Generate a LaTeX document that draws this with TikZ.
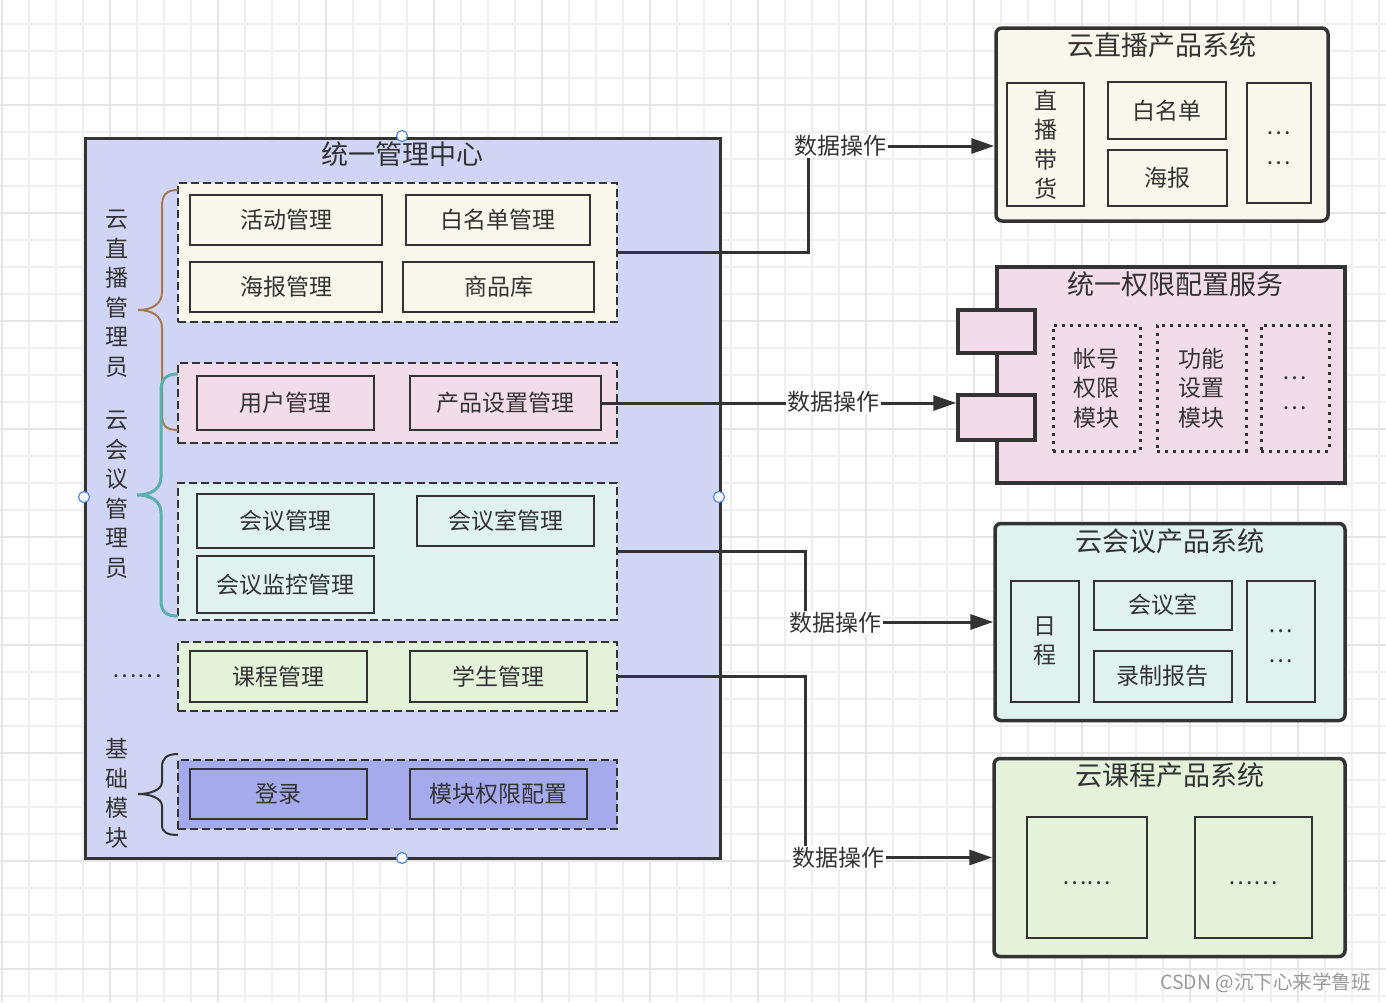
\documentclass[tikz,border=0pt]{standalone}
\usepackage{fontspec}
\setmainfont{Noto Sans CJK SC}
\usetikzlibrary{arrows.meta}
\definecolor{ink}{HTML}{333333}
\definecolor{mainfill}{HTML}{D0D4F5}
\definecolor{cream}{HTML}{F9F7EB}
\definecolor{pinkf}{HTML}{F3DCEA}
\definecolor{tealf}{HTML}{DFF2F0}
\definecolor{greenf}{HTML}{E4F2DA}
\definecolor{bluef}{HTML}{A4AAEC}
\definecolor{braceb}{HTML}{A8784A}
\definecolor{bracet}{HTML}{5BB0AC}
\definecolor{gridl}{HTML}{EFEFEF}
\definecolor{gridd}{HTML}{E5E5E5}
\definecolor{handleb}{HTML}{4A86E8}
\newcommand\lblfont{\fontsize{23}{29.5}\selectfont}
\newcommand\ttlfont{\fontsize{27}{32}\selectfont}
\newcommand\lowdots{\raisebox{-5pt}[\height][\depth]{…}}
\newcommand\lowsix{\raisebox{-6pt}[\height][\depth]{……}}
\begin{document}
\begin{tikzpicture}[x=1pt,y=-1pt,
  ibox/.style={draw=ink, line width=2pt, inner sep=0pt, font=\lblfont, text=ink, align=center},
  grp/.style={draw=ink, line width=2pt, dash pattern=on 8pt off 4pt, inner sep=0pt},
  sysbox/.style={draw=ink, line width=3.5pt, rounded corners=6pt, inner sep=0pt},
  dotbox/.style={draw=ink, line width=3pt, dash pattern=on 3pt off 5pt, inner sep=0pt, font=\lblfont, text=ink, align=center},
  conn/.style={draw=ink, line width=3pt, -{Triangle[length=23pt,width=15pt]}},
  oplabel/.style={fill=white, inner sep=1.5pt, font=\lblfont, text=ink},
  ttl/.style={font=\ttlfont, text=ink, inner sep=0pt},
  vlab/.style={font=\lblfont, text=ink, align=center, inner sep=0pt},
  handle/.style={circle, draw=handleb, fill=white, minimum size=11pt, inner sep=0pt, line width=1.2pt}
]
\useasboundingbox (0,0) rectangle (1386,1002);
\fill[white] (0,0) rectangle (1386,1002);
% grid
\foreach \xx in {1.7,28.7,...,1390} \draw[gridl, line width=1.6pt] (\xx,0) -- (\xx,1002);
\foreach \yy in {-3,24,...,1010} \draw[gridl, line width=1.6pt] (0,\yy) -- (1386,\yy);
\foreach \xx in {1.7,109.7,...,1390} \draw[gridd, line width=1.6pt] (\xx,0) -- (\xx,1002);
\foreach \yy in {-3,105,...,1010} \draw[gridd, line width=1.6pt] (0,\yy) -- (1386,\yy);

% main box
\node[draw=ink, fill=mainfill, line width=3pt, minimum width=635pt, minimum height=720pt, inner sep=0pt] (main) at (402.5,498) {};
\node[ttl] (mainttl) at (402,154) {统一管理中心};

% groups
\node[grp, fill=cream, minimum width=439pt, minimum height=139pt] (g1) at (397.5,252.5) {};
\node[grp, fill=pinkf, minimum width=439pt, minimum height=80pt] (g2) at (397.5,403) {};
\node[grp, fill=tealf, minimum width=439pt, minimum height=137pt] (g3) at (397.5,551.5) {};
\node[grp, fill=greenf, minimum width=439pt, minimum height=69pt] (g4) at (397.5,676.5) {};
\node[grp, fill=bluef, minimum width=439pt, minimum height=69pt] (g5) at (397.5,794.5) {};

% inner boxes
\node[ibox, fill=cream, minimum width=192pt, minimum height=50pt] (hd) at (286,220) {活动管理};
\node[ibox, fill=cream, minimum width=184pt, minimum height=50pt] (bmd) at (498,220) {白名单管理};
\node[ibox, fill=cream, minimum width=192pt, minimum height=50pt] (hb) at (286,287) {海报管理};
\node[ibox, fill=cream, minimum width=191pt, minimum height=50pt] (spk) at (498.5,287) {商品库};
\node[ibox, fill=pinkf, minimum width=177pt, minimum height=54pt] (yh) at (285.5,403) {用户管理};
\node[ibox, fill=pinkf, minimum width=191pt, minimum height=54pt] (cps) at (505.5,403) {产品设置管理};
\node[ibox, fill=tealf, minimum width=177pt, minimum height=54pt] (hy) at (285.5,521) {会议管理};
\node[ibox, fill=tealf, minimum width=177pt, minimum height=50pt] (hys) at (505.5,521) {会议室管理};
\node[ibox, fill=tealf, minimum width=177pt, minimum height=57pt] (hyjk) at (285.5,584.5) {会议监控管理};
\node[ibox, fill=greenf, minimum width=177pt, minimum height=51pt] (kc) at (278.5,676.5) {课程管理};
\node[ibox, fill=greenf, minimum width=177pt, minimum height=51pt] (xs) at (498.5,676.5) {学生管理};
\node[ibox, fill=bluef, minimum width=177pt, minimum height=50pt] (dl) at (278.5,794) {登录};
\node[ibox, fill=bluef, minimum width=177pt, minimum height=50pt] (mk) at (498.5,794) {模块权限配置};

% left labels
\node[vlab] (lz) at (117,293.5) {云\\直\\播\\管\\理\\员};
\node[vlab] (lh) at (117,494.5) {云\\会\\议\\管\\理\\员};
\node[vlab] (ld) at (137,672) {\raisebox{-4pt}[\height][\depth]{……}};
\node[vlab] (lj) at (117,793.5) {基\\础\\模\\块};

% braces
\draw[braceb, line width=2pt] (178,190) .. controls (166,190) and (162,195) .. (162,207) -- (162,292)
  .. controls (162,304) and (152,310) .. (138,310) .. controls (152,310) and (162,316) .. (162,328)
  -- (162,414) .. controls (162,426) and (166,430) .. (178,430);
\draw[bracet, line width=3pt] (178,374) .. controls (166,374) and (161,379) .. (161,391) -- (161,477)
  .. controls (161,489) and (151,495) .. (137,495) .. controls (151,495) and (161,501) .. (161,513)
  -- (161,600) .. controls (161,612) and (166,616) .. (178,616);
\draw[ink, line width=2pt] (178,754) .. controls (167,754) and (162,758) .. (162,767) -- (162,782)
  .. controls (162,790) and (150,794) .. (138,794) .. controls (150,794) and (162,798) .. (162,806)
  -- (162,825) .. controls (162,832) and (167,835) .. (178,835);

% right system A
\node[sysbox, fill=cream, minimum width=332pt, minimum height=193pt] (A) at (1162,124.5) {};
\node[ttl] (Attl) at (1162,45) {云直播产品系统};
\node[ibox, fill=cream, minimum width=77pt, minimum height=123pt] (zbdh) at (1045.5,144.5) {直\\播\\带\\货};
\node[ibox, fill=cream, minimum width=118pt, minimum height=57pt] (bmdA) at (1167,110.5) {白名单};
\node[ibox, fill=cream, minimum width=119pt, minimum height=56pt] (hbA) at (1167.5,178) {海报};
\node[ibox, fill=cream, minimum width=64pt, minimum height=120pt] (dotA) at (1279,143) {\lowdots\\\lowdots};

% right system B
\node[draw=ink, fill=pinkf, line width=3.5pt, minimum width=348pt, minimum height=216pt, inner sep=0pt] (B) at (1171,375) {};
\node[draw=ink, fill=pinkf, line width=3.5pt, minimum width=77pt, minimum height=43pt, inner sep=0pt] (p1) at (996.5,331.5) {};
\node[draw=ink, fill=pinkf, line width=3.5pt, minimum width=77pt, minimum height=45pt, inner sep=0pt] (p2) at (996.5,417.5) {};
\node[ttl] (Bttl) at (1175,284) {统一权限配置服务};
\node[dotbox, minimum width=87pt, minimum height=126pt] (zh) at (1096.5,388) {帐号\\权限\\模块};
\node[dotbox, minimum width=89pt, minimum height=126pt] (gn) at (1201.5,388) {功能\\设置\\模块};
\node[dotbox, minimum width=68pt, minimum height=126pt] (dotB) at (1295,388) {\lowdots\\\lowdots};

% right system C
\node[sysbox, fill=tealf, minimum width=350pt, minimum height=197pt] (C) at (1170,622) {};
\node[ttl] (Cttl) at (1170,541) {云会议产品系统};
\node[ibox, fill=tealf, minimum width=68pt, minimum height=121pt] (rc) at (1044.5,641) {日\\程};
\node[ibox, fill=tealf, minimum width=138pt, minimum height=49pt] (hysC) at (1162.5,605) {会议室};
\node[ibox, fill=tealf, minimum width=138pt, minimum height=51pt] (lzbg) at (1162.5,676) {录制报告};
\node[ibox, fill=tealf, minimum width=68pt, minimum height=121pt] (dotC) at (1280.5,641) {\lowdots\\\lowdots};

% right system D
\node[sysbox, fill=greenf, minimum width=351pt, minimum height=198pt] (D) at (1169.5,857.5) {};
\node[ttl] (Dttl) at (1170,775) {云课程产品系统};
\node[ibox, fill=greenf, minimum width=120pt, minimum height=121pt] (d1) at (1086.7,877) {\lowsix};
\node[ibox, fill=greenf, minimum width=117pt, minimum height=121pt] (d2) at (1253.2,877) {\lowsix};

% connectors
\coordinate (b1) at (808,146);
\coordinate (b3) at (805,622);
\coordinate (b4) at (805,857.5);
\draw[conn] (g1.east) -| (b1) -- (b1 -| A.west);
\draw[conn] (cps.east) -- (cps.east -| p2.west);
\draw[conn] (g3.east) -| (b3) -- (C.west);
\draw[conn] (g4.east) -| (b4) -- (D.west);
\node[oplabel] (l1) at (840,146) {数据操作};
\node[oplabel] (l2) at (833,402) {数据操作};
\node[oplabel] (l3) at (835,623) {数据操作};
\node[oplabel] (l4) at (838,858) {数据操作};

% selection handles
\node[handle] (h1) at (402,136) {};
\node[handle] (h2) at (84,497) {};
\node[handle] (h3) at (719,497) {};
\node[handle] (h4) at (402,858) {};

% watermark
\node[anchor=east, font=\fontsize{19.5}{19.5}\selectfont, text=black!40, inner sep=0pt] (wm) at (1371,983) {CSDN @沉下心来学鲁班};
\end{tikzpicture}
\end{document}
